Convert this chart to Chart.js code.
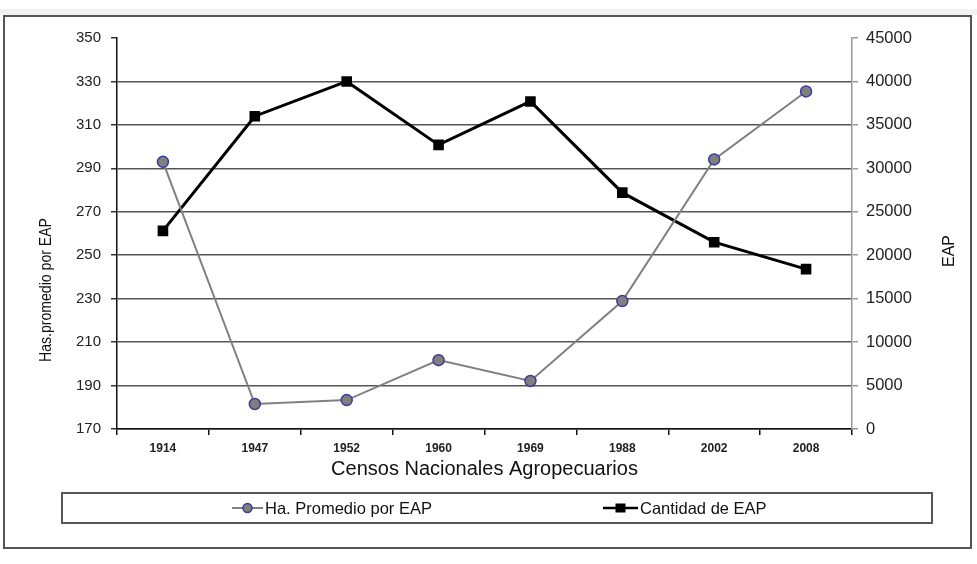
<!DOCTYPE html>
<html>
<head>
<meta charset="utf-8">
<script src="https://cdn.jsdelivr.net/npm/chart.js@4"></script>
<style>
  body { margin: 0; background: #fff; }
  #wrap { width: 977px; height: 564px; position: relative; }
</style>
</head>
<body>
<div id="wrap"><canvas id="lineChart"></canvas></div>
<script>
// Chart data
const censos = ['1914', '1947', '1952', '1960', '1969', '1988', '2002', '2008'];
const haPromedio = [293, 181.5, 183.3, 201.7, 192.1, 228.9, 294.1, 325.4];
const cantidadEAP = [22800, 36000, 40000, 32700, 37700, 27200, 21500, 18400];
const leftTicks = [170, 350, 20];
const rightTicks = [0, 45000, 5000];

const FONT = "'Liberation Sans', Arial, sans-serif";
const ctx = document.getElementById('lineChart').getContext('2d');

// frame, top strip, y titles and the boxed legend
const framePlugin = {
    id: 'frame',
    beforeDraw(chart) {
        const c = chart.ctx;
        c.save();
        c.fillStyle = '#f2f2f2';
        c.fillRect(0, 9, chart.width, 6);
        c.strokeStyle = '#555';
        c.lineWidth = 2;
        c.strokeRect(4, 16, chart.width - 10, 532);
        c.restore();
    },
    afterDraw(chart) {
        const c = chart.ctx;
        c.save();
        // rotated axis titles, both reading bottom to top
        c.fillStyle = '#111';
        c.textAlign = 'center';
        c.textBaseline = 'middle';
        c.save();
        c.translate(47, 290);
        c.rotate(-Math.PI / 2);
        c.scale(0.88, 1);   // narrow face like the original
        c.font = '16px ' + FONT;
        c.fillText('Has.promedio por EAP', 0, 0);
        c.restore();
        c.save();
        c.translate(950, 251);
        c.rotate(-Math.PI / 2);
        c.font = '16px ' + FONT;
        c.fillText('EAP', 0, 0);
        c.restore();

        // legend box
        const left = 62, top = 493, w = 870, h = 30;
        c.strokeStyle = '#555';
        c.lineWidth = 2;
        c.strokeRect(left, top, w, h);
        c.textAlign = 'left';
        c.font = '16.5px ' + FONT;
        const cy = top + h / 2;
        const starts = [232, 603];
        chart.data.datasets.forEach((ds, i) => {
            const x0 = starts[i];
            const sw = i === 0 ? 31 : 35;
            c.strokeStyle = ds.borderColor;
            c.lineWidth = i === 0 ? 2 : 2.5;
            c.beginPath();
            c.moveTo(x0, cy);
            c.lineTo(x0 + sw, cy);
            c.stroke();
            if (i === 0) {
                c.beginPath();
                c.arc(x0 + sw / 2, cy, 4.5, 0, Math.PI * 2);
                c.fillStyle = ds.pointBackgroundColor;
                c.fill();
                c.strokeStyle = ds.pointBorderColor;
                c.lineWidth = 1.5;
                c.stroke();
            } else {
                c.fillStyle = '#000';
                c.fillRect(x0 + sw / 2 - 5, cy - 4.5, 10, 9);
            }
            c.fillStyle = '#111';
            c.fillText(ds.label, x0 + sw + 2, cy + 1);
        });
        c.restore();
    }
};

const data = {
    labels: censos,
    datasets: [{
        label: 'Ha. Promedio por EAP',
        data: haPromedio,
        yAxisID: 'y',
        borderColor: '#808080',
        borderWidth: 2,
        pointRadius: 5.5,
        pointBackgroundColor: '#7f7f7f',
        pointBorderColor: '#3b3b9c',
        pointBorderWidth: 1.5,
        tension: 0
    }, {
        label: 'Cantidad de EAP',
        data: cantidadEAP,
        yAxisID: 'y1',
        borderColor: '#000',
        borderWidth: 3,
        pointStyle: 'rect',
        pointRadius: 7.5,
        pointBackgroundColor: '#000',
        pointBorderColor: '#000',
        pointBorderWidth: 0,
        tension: 0
    }]
};

const options = {
    responsive: true,
    maintainAspectRatio: false,
    animation: false,
    layout: { padding: { left: 33, right: 18, top: 38, bottom: 75 } },
    plugins: {
        legend: { display: false },
        tooltip: { enabled: false }
    },
    scales: {
        x: {
            offset: true,
            afterFit: s => { s.height = 60; },
            border: { color: '#111', width: 1.5 },
            grid: { offset: true, drawOnChartArea: false, tickLength: 6, tickColor: '#111', lineWidth: 1.5 },
            ticks: { color: '#222', font: { family: FONT, size: 12, weight: 'bold' }, padding: 6 },
            title: {
                display: true,
                text: 'Censos Nacionales Agropecuarios',
                color: '#111',
                font: { family: FONT, size: 20 },
                padding: { top: 0, bottom: 8 }
            }
        },
        y: {
            position: 'left',
            min: leftTicks[0],
            max: leftTicks[1],
            afterFit: s => { s.width = 84; },
            border: { color: '#111', width: 1.5 },
            grid: {
                color: ctx => ctx.tick && ctx.tick.value === leftTicks[1] ? 'rgba(0,0,0,0)' : '#555',
                tickColor: '#333',
                lineWidth: 1.5,
                tickLength: 6
            },
            ticks: { stepSize: leftTicks[2], color: '#222', font: { family: FONT, size: 15 }, padding: 10 }
        },
        y1: {
            position: 'right',
            min: rightTicks[0],
            max: rightTicks[1],
            afterFit: s => { s.width = 107; },
            border: { color: '#999', width: 1.5 },
            grid: { drawOnChartArea: false, tickColor: '#999', tickLength: 6, lineWidth: 1.5 },
            ticks: {
                stepSize: rightTicks[2],
                color: '#222',
                font: { family: FONT, size: 16.5 },
                padding: 8,
                callback: v => String(v)
            }
        }
    }
};

new Chart(ctx, {
    type: 'line',
    data: data,
    options: options,
    plugins: [framePlugin]
});
</script>
</body>
</html>
